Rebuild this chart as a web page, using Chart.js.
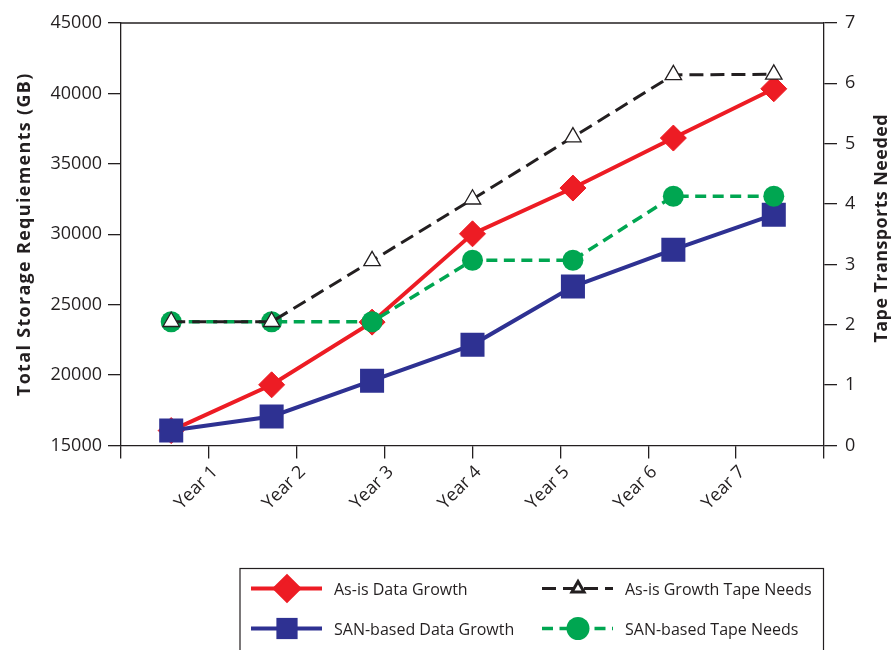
<!DOCTYPE html>
<html>
<head>
<meta charset="utf-8">
<title>Storage growth</title>
<script src="https://cdn.jsdelivr.net/npm/chart.js@4.4.1/dist/chart.umd.min.js"></script>
<style>
  html, body { margin: 0; padding: 0; background: #fff; }
  #wrap { position: relative; width: 891px; height: 650px; }
</style>
</head>
<body>
<div id="wrap"><canvas id="storageChart"></canvas></div>
<script>
// data
const years = ['Year 1', 'Year 2', 'Year 3', 'Year 4', 'Year 5', 'Year 6', 'Year 7'];
const tickLabels = ['', 'Year 1', 'Year 2', 'Year 3', 'Year 4', 'Year 5', 'Year 6', 'Year 7', ''];

const asIsGrowth = [16060, 19310, 23760, 30030, 33280, 36830, 40330];
const sanGrowth = [16060, 17060, 19600, 22150, 26290, 28900, 31390];
const asIsTape = [2.05, 2.05, 3.06, 4.08, 5.11, 6.14, 6.15];
const sanTape = [2.05, 2.05, 2.05, 3.07, 3.07, 4.13, 4.13];

const storageMin = 15000, storageMax = 45000, storageStep = 5000;
const tapeMin = 0, tapeMax = 7, tapeStep = 1;

const leftTitle = 'Total Storage Requiements (GB)';
const rightTitle = 'Tape Transports Needed';

const ink = '#231f20';
const fontFamily = '"Open Sans", "Noto Sans", sans-serif';

//draws the box border top, the axis titles and the boxed legend
const chromePlugin = {
  id: 'chrome',
  afterDraw(chart) {
    const {ctx, chartArea} = chart;
    ctx.save();
    ctx.strokeStyle = ink;
    ctx.lineWidth = 1.3;
    ctx.beginPath();
    ctx.moveTo(chartArea.left, chartArea.top);
    ctx.lineTo(chartArea.right, chartArea.top);
    ctx.stroke();

    // vertical titles, both read bottom to top
    ctx.fillStyle = ink;
    ctx.font = 'bold 18px ' + fontFamily;
    ctx.textAlign = 'center';
    ctx.textBaseline = 'alphabetic';
    const midY = (chartArea.top + chartArea.bottom) / 2;
    [[leftTitle, 29.5, midY, 1.3], [rightTitle, 886.5, midY - 6, 0.4]].forEach(([text, bx, cy, spacing]) => {
      ctx.save();
      ctx.translate(bx, cy);
      ctx.rotate(-Math.PI / 2);
      if ('letterSpacing' in ctx) ctx.letterSpacing = spacing + 'px';
      ctx.fillText(text, 0, 0);
      ctx.restore();
    });

    // legend box
    ctx.lineWidth = 1.2;
    ctx.strokeRect(240, 568.5, 583.5, 95);
    ctx.font = '16px ' + fontFamily;
    ctx.textAlign = 'left';
    chart.data.datasets.forEach((ds, i) => {
      const col = Math.floor(i / 2), row = i % 2;
      const x0 = 251 + col * 291;
      const y0 = 588.5 + row * 40;
      ctx.save();
      ctx.strokeStyle = ds.borderColor;
      ctx.lineWidth = ds.borderWidth;
      ctx.setLineDash(ds.borderDash || []);
      ctx.beginPath();
      ctx.moveTo(x0, y0);
      ctx.lineTo(x0 + 71, y0);
      ctx.stroke();
      ctx.setLineDash([]);
      ctx.fillStyle = ds.pointBackgroundColor;
      ctx.strokeStyle = ds.pointBorderColor;
      if (Chart.helpers && Chart.helpers.drawPoint) {
        Chart.helpers.drawPoint(ctx, {
          pointStyle: ds.pointStyle,
          radius: ds.legendRadius,
          rotation: 0,
          borderWidth: ds.pointBorderWidth
        }, x0 + 36, y0);
      }
      ctx.restore();
      ctx.fillStyle = ink;
      ctx.fillText(ds.label, x0 + 83, y0 + 6);
    });
    ctx.restore();
  }
};

const ctx = document.getElementById('storageChart');
new Chart(ctx, {
  type: 'line',
  data: {
    labels: years,
    datasets: [
      {
        label: 'As-is Data Growth',
        data: asIsGrowth,
        xAxisID: 'xData', yAxisID: 'y',
        borderColor: '#ed1c24', borderWidth: 4,
        pointStyle: 'rectRot', pointRadius: 13, legendRadius: 12,
        pointBackgroundColor: '#ed1c24', pointBorderColor: '#ed1c24', pointBorderWidth: 1,
        order: 3
      },
      {
        label: 'SAN-based Data Growth',
        data: sanGrowth,
        xAxisID: 'xData', yAxisID: 'y',
        borderColor: '#2e3192', borderWidth: 4,
        pointStyle: 'rect', pointRadius: 17, legendRadius: 15,
        pointBackgroundColor: '#2e3192', pointBorderColor: '#2e3192', pointBorderWidth: 0,
        order: 2
      },
      {
        label: 'As-is Growth Tape Needs',
        data: asIsTape,
        xAxisID: 'xData', yAxisID: 'y1',
        borderColor: ink, borderWidth: 3, borderDash: [14, 7],
        pointStyle: 'triangle', pointRadius: 9.5, legendRadius: 7,
        pointBackgroundColor: '#ffffff', pointBorderColor: ink, pointBorderWidth: 1.3,
        order: 0
      },
      {
        label: 'SAN-based Tape Needs',
        data: sanTape,
        xAxisID: 'xData', yAxisID: 'y1',
        borderColor: '#00a651', borderWidth: 3.5, borderDash: [11, 6.5],
        pointStyle: 'circle', pointRadius: 10.5, legendRadius: 11.5,
        pointBackgroundColor: '#00a651', pointBorderColor: '#00a651', pointBorderWidth: 0,
        order: 1
      }
    ]
  },
  options: {
    responsive: true,
    maintainAspectRatio: false,
    animation: false,
    events: [],
    layout: { padding: { top: 23, left: 0, right: 0, bottom: 94.5 } },
    plugins: { legend: { display: false }, tooltip: { enabled: false } },
    elements: { line: { tension: 0 } },
    scales: {
      x: {
        type: 'category', axis: 'x', position: 'bottom',
        labels: tickLabels,
        offset: false,
        grid: { drawOnChartArea: false, tickLength: 13, color: ink, lineWidth: 1.3 },
        border: { display: true, color: ink, width: 1.3 },
        ticks: { autoSkip: false, minRotation: 45, maxRotation: 45, padding: 3, labelOffset: 6, color: ink, font: { family: fontFamily, size: 18 } },
        afterFit: (scale) => { scale.height = 110; }
      },
      xData: {
        type: 'category', axis: 'x', position: 'bottom',
        labels: years,
        offset: true,
        display: false
      },
      y: {
        type: 'linear', position: 'left',
        min: storageMin, max: storageMax,
        grid: { drawOnChartArea: false, tickLength: 13, color: ink, lineWidth: 1.3 },
        border: { display: true, color: ink, width: 1.3 },
        ticks: { stepSize: storageStep, padding: 6, color: ink, font: { family: fontFamily, size: 18 }, callback: (v) => String(v) },
        afterFit: (scale) => { scale.width = 121; }
      },
      y1: {
        type: 'linear', position: 'right',
        min: tapeMin, max: tapeMax,
        grid: { drawOnChartArea: false, tickLength: 13, color: ink, lineWidth: 1.3 },
        border: { display: true, color: ink, width: 1.3 },
        ticks: { stepSize: tapeStep, padding: 8, color: ink, font: { family: fontFamily, size: 18 }, callback: (v) => String(v) },
        afterFit: (scale) => { scale.width = 67; }
      }
    }
  },
  plugins: [chromePlugin]
});
</script>
</body>
</html>
